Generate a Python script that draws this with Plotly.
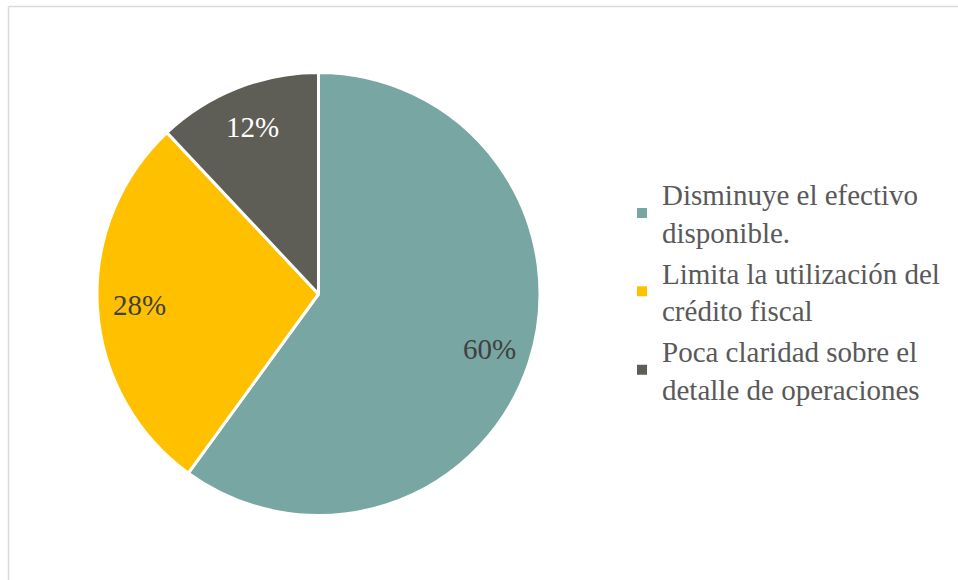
import math
import plotly.graph_objects as go

# Survey results: main drawback perceived
labels = [
    "Disminuye el efectivo<br>disponible.",
    "Limita la utilización del<br>crédito fiscal",
    "Poca claridad sobre el<br>detalle de operaciones",
]
values = [60, 28, 12]
colors = ["#78A6A3", "#FFC000", "#5E5D56"]
text_colors = ["#404040", "#404040", "#FFFFFF"]

W, H = 958, 580
cx, cy, r = 318.5, 294, 221.5
label_radius = 0.81  # fraction of the radius where percentage labels sit

fig = go.Figure(
    go.Pie(
        labels=labels,
        values=values,
        sort=False,
        direction="clockwise",
        rotation=0,
        marker=dict(colors=colors, line=dict(color="#FFFFFF", width=3)),
        textinfo="none",
        hoverinfo="label+percent",
        domain=dict(x=[(cx - r) / W, (cx + r) / W], y=[1 - (cy + r) / H, 1 - (cy - r) / H]),
    )
)

# Percentage labels placed along each slice's mid-angle
total = sum(values)
annotations = []
start = 0.0
for v, col in zip(values, text_colors):
    mid = (start + v / 2) / total * 2 * math.pi
    start += v
    px = cx + label_radius * r * math.sin(mid)
    py = cy - label_radius * r * math.cos(mid)
    annotations.append(
        dict(
            x=px / W, y=1 - py / H, xref="paper", yref="paper",
            text=f"{round(v / total * 100)}%", showarrow=False,
            font=dict(family="Liberation Serif", size=29, color=col),
            xanchor="center", yanchor="middle",
        )
    )

fig.update_layout(
    width=W,
    height=H,
    margin=dict(l=0, r=0, t=0, b=0),
    paper_bgcolor="#FFFFFF",
    font=dict(family="Liberation Serif", color="#595959"),
    annotations=annotations,
    legend=dict(
        x=622 / W,
        y=0.497,
        xanchor="left",
        yanchor="middle",
        font=dict(family="Liberation Serif", size=29, color="#595959"),
        itemsizing="constant",
    ),
    shapes=[
        dict(type="line", xref="paper", yref="paper", x0=8.5 / W, x1=1.05, y0=1 - 6.5 / H, y1=1 - 6.5 / H,
             line=dict(color="#D9D9D9", width=1.5)),
        dict(type="line", xref="paper", yref="paper", x0=8.5 / W, x1=8.5 / W, y0=-0.05, y1=1 - 6.5 / H,
             line=dict(color="#D9D9D9", width=1.5)),
    ],
)

fig.write_html("out.html")
